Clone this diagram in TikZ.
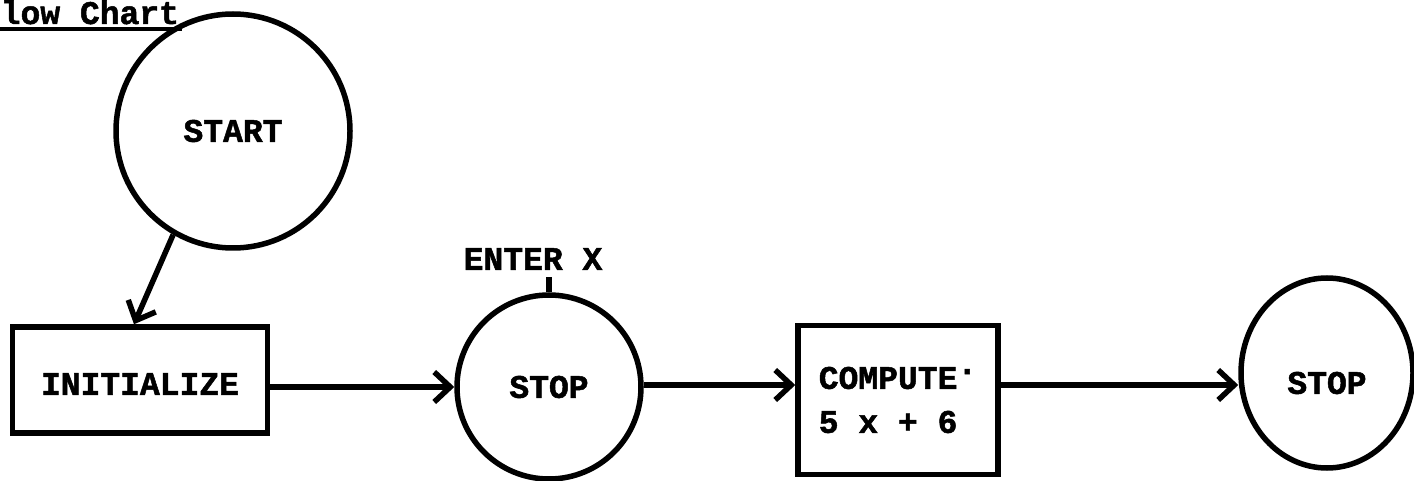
\documentclass[tikz,border=0pt]{standalone}
\usepackage{fontspec}
\setmonofont{Liberation Mono}[BoldFeatures={FakeBold=1.5}]
\usetikzlibrary{arrows.meta,shapes.geometric,calc}
\begin{document}
\begin{tikzpicture}[x=1pt,y=-1pt,line width=5.5pt,
  lbl/.style={font=\ttfamily\bfseries\fontsize{33}{44}\selectfont},
  roundbox/.style={draw,circle,inner sep=0pt,lbl},
  ovalbox/.style={draw,ellipse,inner sep=0pt,lbl},
  procbox/.style={draw,rectangle,inner sep=0pt,lbl},
  flow/.style={-{Straight Barb[length=16pt,width=30pt]}}]
\useasboundingbox (0,0) rectangle (1414,481);

% heading
\node[lbl,anchor=base west,inner sep=0pt] (title) at (-2,24) {low Chart};
\draw[line width=4pt] ($(title.base west)+(2,5)$) -- ($(title.base east)+(0,5)$);

% flow chart elements
\node[roundbox,minimum size=234pt] (start) at (233,131) {START};
\node[procbox,minimum width=255pt,minimum height=106pt] (init) at (140,380)
  {\raisebox{-4pt}[\height][\depth]{INITIALIZE}};
\node[roundbox,minimum size=184pt] (stop1) at (549,387) {STOP};
\node[lbl,inner sep=0pt] (enterx) at (533,259) {ENTER X};
\coordinate (tick) at (547,277);
\node[procbox,minimum width=200pt,minimum height=149pt,align=left] (compute) at (898,400)
  {COMPUTE\raisebox{0.45em}{.}\\5 x + 6};
\node[ovalbox,minimum width=172pt,minimum height=190pt] (stop2) at (1327,373)
  {\raisebox{-10pt}[\height][\depth]{STOP}};

% connectors
\draw[flow] (start.240) -- ($(init.north)+(-6,0)$);
\draw[flow] (init.east |- stop1) -- (stop1.west);
\draw (stop1.north) -- (stop1.north |- tick);
\draw[flow] (stop1.east |- 0,385) -- (compute.west |- 0,385);
\draw[flow] (compute.east |- 0,385) -- (stop2.west |- 0,385);
\end{tikzpicture}
\end{document}
